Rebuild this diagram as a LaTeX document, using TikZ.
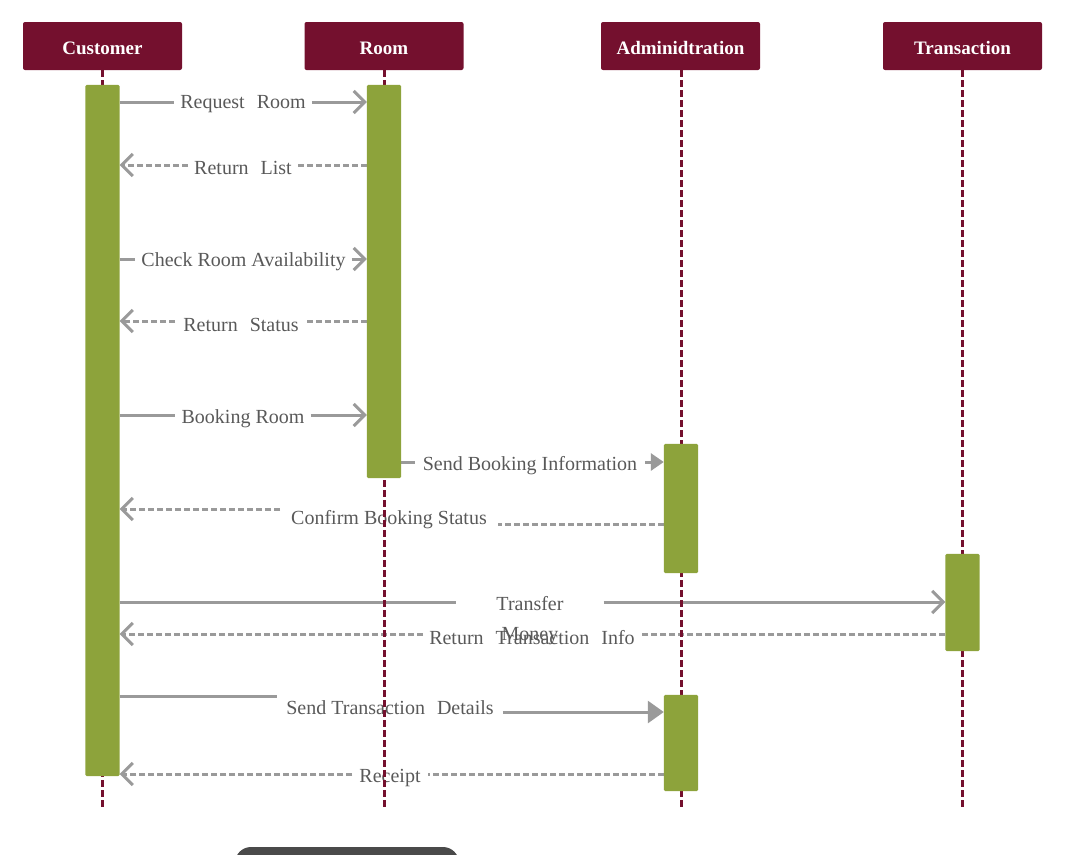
\documentclass[tikz,border=0pt]{standalone}
\usepackage{fontspec}
\setmainfont{Liberation Serif}
\usetikzlibrary{arrows.meta}
\definecolor{maroon}{HTML}{74102E}
\definecolor{barg}{HTML}{8DA33B}
\definecolor{arrg}{HTML}{9A9A9A}
\definecolor{txtg}{HTML}{595959}
\definecolor{btng}{HTML}{4A4A4A}
\newcommand\mywsp{\hspace{0.6em}}
\tikzset{
  head/.style={fill=maroon, rounded corners=2pt, minimum width=159pt, minimum height=48pt, text=white, font=\fontsize{19}{22}\selectfont\bfseries, inner sep=0pt, text height=17pt, text depth=0pt},
  lifeline/.style={draw=maroon, line width=3pt, dash pattern=on 7pt off 3pt},
  lbl/.style={text=txtg, font=\fontsize{20}{24}\selectfont, inner ysep=0pt, inner xsep=6pt},
  msg/.style={draw=arrg, line width=3pt},
  ret/.style={msg, dash pattern=on 6pt off 3pt},
  barb/.style={-{Straight Barb[length=11pt,width=22pt]}},
  tri/.style={-{Triangle[length=13pt,width=17pt]}},
  bigtri/.style={-{Triangle[length=16pt,width=22pt]}},
  bararea/.style={minimum width=34pt, inner sep=0pt}
}
\begin{document}
\begin{tikzpicture}[x=1pt,y=-1pt]
\useasboundingbox (0,0) rectangle (1078,854);
% headers
\node[head] (hc) at (102.5,46) {Customer};
\node[head] (hr) at (384,46) {Room};
\node[head] (ha) at (680.5,46) {Adminidtration};
\node[head] (ht) at (962.5,46) {Transaction};
% activation bars (placed first to get anchors; filled later on top)
\node[bararea, minimum height=691pt] (cb) at (102.5,430.5) {};
\node[bararea, minimum height=393pt] (rb) at (384,281.5) {};
\node[bararea, minimum height=129pt] (ab1) at (681,508.5) {};
\node[bararea, minimum height=97pt] (tb) at (962.5,602.5) {};
\node[bararea, minimum height=96pt] (ab2) at (681,743) {};
% messages
\node[lbl] (m1) at (243,104) {Request\mywsp Room};
\draw[msg] (cb.east |- 0,102) -- (m1.west |- 0,102);
\draw[msg,barb] (m1.east |- 0,102) -- (rb.west |- 0,102);

\node[lbl] (m2) at (243,168) {Return\mywsp List};
\draw[ret] (rb.west |- 0,165) -- (m2.east |- 0,165);
\draw[ret,barb] (m2.west |- 0,165) -- (cb.east |- 0,165);

\node[lbl] (m3) at (243.5,262) {Check Room Availability};
\draw[msg] (cb.east |- 0,259) -- (m3.west |- 0,259);
\draw[msg,barb] (m3.east |- 0,259) -- (rb.west |- 0,259);

\node[lbl, inner xsep=8pt] (m4) at (241,325) {Return\mywsp Status};
\draw[ret] (rb.west |- 0,321) -- (m4.east |- 0,321);
\draw[ret,barb] (m4.west |- 0,321) -- (cb.east |- 0,321);

\node[lbl] (m5) at (243,419) {Booking Room};
\draw[msg] (cb.east |- 0,415) -- (m5.west |- 0,415);
\draw[msg,barb] (m5.east |- 0,415) -- (rb.west |- 0,415);

\node[lbl, inner xsep=8pt] (m6) at (530,466) {Send Booking Information};
\draw[msg] (rb.east |- 0,462) -- (m6.west |- 0,462);
\draw[msg,tri] (m6.east |- 0,462) -- (ab1.west |- 0,462);

\node[lbl, inner xsep=11pt] (m7) at (389,520) {Confirm Booking Status};
\draw[ret] (ab1.west |- 0,524) -- (m7.east |- 0,524);
\draw[ret,barb] (m7.west |- 0,509) -- (cb.east |- 0,509);

\node[lbl, inner xsep=40pt, align=center, font=\fontsize{20}{30}\selectfont] (m8) at (530,621) {Transfer\\Money};
\draw[msg] (cb.east |- 0,602) -- (m8.west |- 0,602);
\draw[msg,barb] (m8.east |- 0,602) -- (tb.west |- 0,602);

\node[lbl] (m9) at (532,638) {Return\mywsp Transaction\mywsp Info};
\draw[ret] (tb.west |- 0,634) -- (m9.east |- 0,634);
\draw[ret,barb] (m9.west |- 0,634) -- (cb.east |- 0,634);

\node[lbl, inner xsep=9pt] (m10) at (390,708) {Send Transaction\mywsp Details};
\draw[msg] (cb.east |- 0,696) -- (m10.west |- 0,696);
\draw[msg,bigtri] (m10.east |- 0,712) -- (ab2.west |- 0,712);

\node[lbl, inner xsep=7pt] (m11) at (390,778) {Receipt};
\draw[ret] (ab2.west |- 0,774) -- (m11.east |- 0,774);
\draw[ret,barb] (m11.west |- 0,774) -- (cb.east |- 0,774);
% lifelines
\coordinate (ec) at (102.5,807);
\coordinate (er) at (384,807);
\coordinate (ea) at (681,807);
\coordinate (et) at (962.5,807);
\draw[lifeline] (hc.south) -- (ec);
\draw[lifeline] (hr.south) -- (er);
\draw[lifeline] (ha.south -| ea) -- (ea);
\draw[lifeline] (ht.south) -- (et);
% bars drawn on top
\foreach \b in {cb,rb,ab1,tb,ab2}{
  \fill[barg, rounded corners=1.5pt] (\b.south west) rectangle (\b.north east);
}
% bottom button (cut off)
\begin{scope}
\clip (0,0) rectangle (1078,854);
\fill[btng, rounded corners=16pt] (235,847) rectangle (459,900);
\end{scope}
\end{tikzpicture}
\end{document}
